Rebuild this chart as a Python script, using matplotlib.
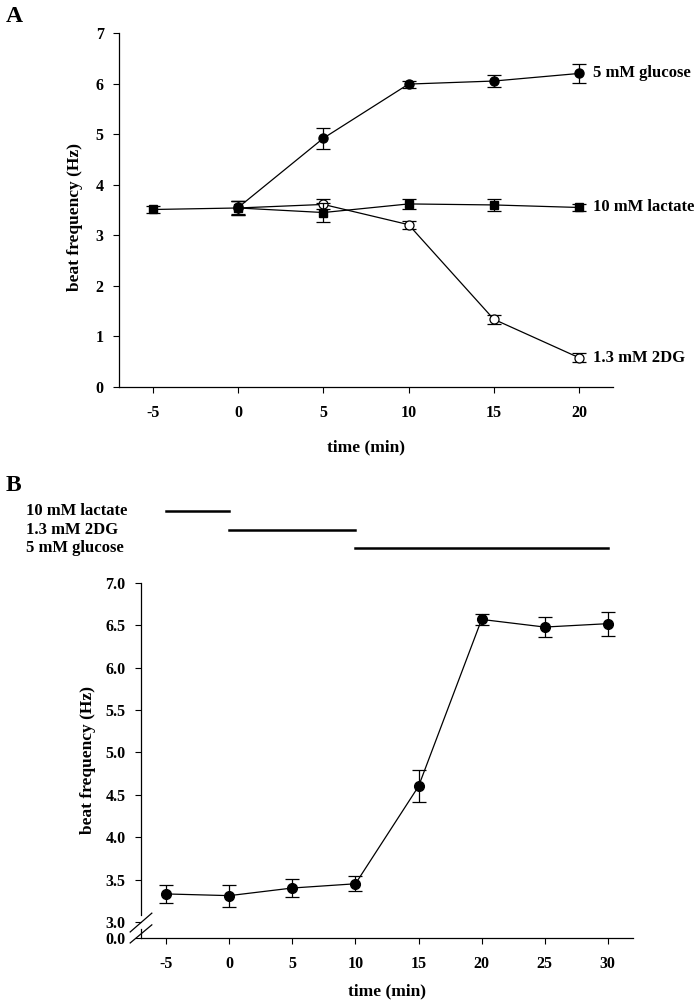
import numpy as np
import matplotlib
matplotlib.use('Agg')
import matplotlib.pyplot as plt
import matplotlib.transforms as mtransforms

plt.rcParams['font.family'] = ['Liberation Serif', 'DejaVu Serif']
plt.rcParams['font.weight'] = 'bold'

# ---- panel A data ----
time_a = [-5, 0, 5, 10, 15, 20]
lactate_x = [-5, 0, 5, 10, 15, 20]
lactate_y = [3.51, 3.54, 3.45, 3.62, 3.60, 3.55]
lactate_err = [0.07, 0.13, 0.18, 0.10, 0.12, 0.06]
glucose_x = [0, 5, 10, 15, 20]
glucose_y = [3.55, 4.92, 5.99, 6.05, 6.20]
glucose_err = [0.13, 0.21, 0.07, 0.11, 0.19]
dg_x = [0, 5, 10, 15, 20]
dg_y = [3.54, 3.61, 3.21, 1.34, 0.58]
dg_err = [0.13, 0.10, 0.08, 0.09, 0.09]
a_yticks = [0, 1, 2, 3, 4, 5, 6, 7]

# ---- panel B data ----
time_b = [-5, 0, 5, 10, 15, 20, 25, 30]
freq_b = [3.33, 3.31, 3.40, 3.45, 4.60, 6.57, 6.48, 6.52]
err_b = [0.11, 0.13, 0.11, 0.09, 0.19, 0.07, 0.12, 0.14]
b_yticks = [3.0, 3.5, 4.0, 4.5, 5.0, 5.5, 6.0, 6.5, 7.0]
treatments = ['10 mM lactate', '1.3 mM 2DG', '5 mM glucose']
treat_start = [-5, 0, 10]
treat_end = [0, 10, 30]

W, H = 694, 1002
fig = plt.figure(figsize=(W / 100, H / 100), dpi=100)


def px_axes(l, t, r, b):
    return fig.add_axes([l / W, 1 - b / H, (r - l) / W, (b - t) / H])


def style(ax):
    ax.spines['top'].set_visible(False)
    ax.spines['right'].set_visible(False)
    for s in ['left', 'bottom']:
        ax.spines[s].set_linewidth(0.9)
    ax.tick_params(axis='both', direction='out', length=4, width=0.8, labelsize=11.5)
    ax.tick_params(axis='x', pad=9)
    ax.tick_params(axis='y', pad=7)
    for t in ax.get_xticklabels() + ax.get_yticklabels():
        t.set_fontweight('bold')


def labels(ax, xl, yl):
    ax.set_ylabel('beat frequency (Hz)', fontsize=12.5, fontweight='bold', va='center')
    ax.set_xlabel('time (min)', fontsize=12.5, fontweight='bold', va='center')
    ax.yaxis.set_label_coords(*yl)
    ax.xaxis.set_label_coords(*xl)


eb = dict(capsize=5, elinewidth=0.9, capthick=0.9, color='black', lw=0.9, ecolor='black')

# ================= A =================
axA = px_axes(119, 33, 613, 387)
axA.errorbar(dg_x, dg_y, yerr=dg_err, fmt='-o', ms=6.5, mfc='white', mec='black', mew=0.9, zorder=2, **eb)
axA.errorbar(lactate_x, lactate_y, yerr=lactate_err, fmt='-s', ms=6, mfc='black', mec='black', zorder=3, **eb)
axA.errorbar(glucose_x, glucose_y, yerr=glucose_err, fmt='-o', ms=6.5, mfc='black', mec='black', zorder=4, **eb)

for lab, xs, ys in [('5 mM glucose', glucose_x, glucose_y),
                    ('10 mM lactate', lactate_x, lactate_y),
                    ('1.3 mM 2DG', dg_x, dg_y)]:
    axA.annotate(lab, xy=(xs[-1], ys[-1]), xytext=(10, 0), textcoords='offset points',
                 ha='left', va='center', fontsize=12, fontweight='bold', annotation_clip=False)

axA.set_xlim(-7, 22)
axA.set_ylim(0, 7)
axA.set_xticks(time_a)
axA.set_yticks(a_yticks)
axA.set_xticklabels([str(t) for t in time_a])
axA.set_yticklabels([str(t) for t in a_yticks])
style(axA)
labels(axA, (0.5, -0.17), (-0.089, 0.48))

fig.text(14 / W, 1 - 16 / H, 'A', fontsize=17, fontweight='bold', ha='center', va='center')

# ================= B =================
axB = px_axes(141, 583, 633, 938)
ybot = 2.81
axB.errorbar(time_b, freq_b, yerr=err_b, fmt='-o', ms=7, mfc='black', mec='black', zorder=3, **eb)
axB.set_xlim(-7, 32)
axB.set_ylim(ybot, 7.0)
axB.set_xticks(time_b)
axB.set_xticklabels([str(t) for t in time_b])
axB.set_yticks([ybot] + b_yticks)
axB.set_yticklabels(['0.0'] + ['%.1f' % v for v in b_yticks])
style(axB)
axB.spines['left'].set_bounds(3.08, 7.0)
labels(axB, (0.5, -0.149), (-0.108, 0.5))

# axis break
kw = dict(transform=axB.transAxes, color='black', lw=0.9, clip_on=False)
axB.plot([0, 0], [0, 0.025], **kw)
axB.plot([-0.022, 0.022], [0.017, 0.070], **kw)
axB.plot([-0.022, 0.022], [-0.014, 0.037], **kw)

# treatment bars above panel B
trans = mtransforms.blended_transform_factory(axB.transData, axB.transAxes)
rows = [1.203, 1.150, 1.099]
for name, s, e, r in zip(treatments, treat_start, treat_end, rows):
    axB.plot([s, e], [r, r], color='black', lw=1.8, transform=trans, clip_on=False)
    fig.text(26 / W, axB.get_position().y0 + r * axB.get_position().height, name,
             fontsize=12, fontweight='bold', ha='left', va='center')

fig.text(13 / W, 1 - 486 / H, 'B', fontsize=17, fontweight='bold', ha='center', va='center')

fig.savefig('out.png', dpi=100)
